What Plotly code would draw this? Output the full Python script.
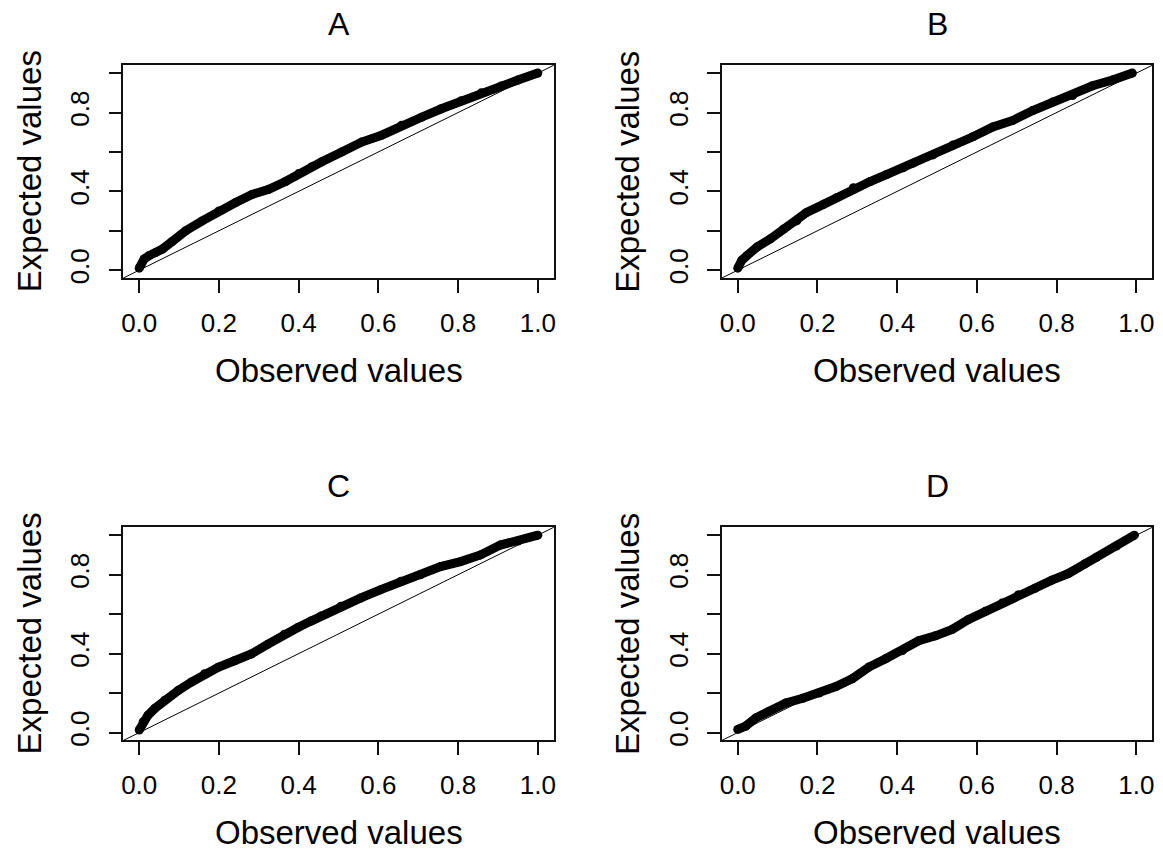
import plotly.graph_objects as go

# ---- data (Observed, Expected) ----
panel_titles = ["A", "B", "C", "D"]

A_x = [0.0, 0.0125, 0.025, 0.042, 0.058, 0.083, 0.117, 0.158, 0.2, 0.242, 0.283, 0.325, 0.367, 0.4,
       0.433, 0.458, 0.508, 0.558, 0.608, 0.658, 0.708, 0.758, 0.808, 0.858, 0.908, 0.95, 1.0]
A_y = [0.01, 0.057, 0.074, 0.09, 0.107, 0.146, 0.2, 0.25, 0.30, 0.343, 0.384, 0.41, 0.45, 0.49,
       0.525, 0.55, 0.60, 0.65, 0.685, 0.735, 0.776, 0.819, 0.86, 0.90, 0.935, 0.965, 1.0]

B_x = [0.0, 0.01, 0.023, 0.048, 0.082, 0.115, 0.148, 0.173, 0.215, 0.248, 0.29, 0.332, 0.373,
       0.415, 0.44, 0.49, 0.54, 0.59, 0.64, 0.69, 0.74, 0.79, 0.84, 0.89, 0.94, 0.99]
B_y = [0.01, 0.05, 0.074, 0.117, 0.159, 0.209, 0.25, 0.293, 0.334, 0.368, 0.418, 0.45, 0.485,
       0.52, 0.543, 0.585, 0.635, 0.677, 0.727, 0.76, 0.81, 0.853, 0.886, 0.936, 0.965, 1.0]

C_x = [0.0, 0.01, 0.022, 0.039, 0.064, 0.098, 0.131, 0.164, 0.198, 0.239, 0.281, 0.323, 0.364,
       0.398, 0.431, 0.456, 0.506, 0.556, 0.606, 0.656, 0.706, 0.756, 0.806, 0.856, 0.906, 0.95, 1.0]
C_y = [0.013, 0.055, 0.088, 0.122, 0.164, 0.214, 0.256, 0.298, 0.331, 0.364, 0.398, 0.448, 0.498,
       0.532, 0.565, 0.59, 0.64, 0.682, 0.724, 0.766, 0.799, 0.841, 0.866, 0.9, 0.95, 0.97, 1.0]

D_x = [0.0, 0.02, 0.046, 0.079, 0.121, 0.163, 0.204, 0.246, 0.288, 0.329, 0.371, 0.413, 0.454,
       0.496, 0.538, 0.579, 0.621, 0.663, 0.704, 0.746, 0.788, 0.829, 0.871, 0.9, 0.95, 0.995]
D_y = [0.016, 0.033, 0.075, 0.108, 0.15, 0.174, 0.2, 0.233, 0.274, 0.332, 0.374, 0.415, 0.465,
       0.49, 0.523, 0.573, 0.614, 0.656, 0.698, 0.731, 0.772, 0.805, 0.855, 0.888, 0.945, 1.0]

x_tick_vals = [0.0, 0.2, 0.4, 0.6, 0.8, 1.0]
x_tick_text = ["0.0", "0.2", "0.4", "0.6", "0.8", "1.0"]
y_tick_vals = [0.0, 0.2, 0.4, 0.6, 0.8, 1.0]
y_tick_text = ["0.0", "", "0.4", "", "0.8", ""]

x_label = "Observed values"
y_label = "Expected values"

series = [(A_x, A_y), (B_x, B_y), (C_x, C_y), (D_x, D_y)]

# ---- layout ----
W, H = 1163, 857
FONT = "Liberation Sans, Arial, sans-serif"
col_px = [(121.7, 553.7), (722.3, 1154.3)]
row_px = [(65.7, 280.0), (531.0, 745.7)]
AX_RANGE = [-0.04, 1.04]

fig = go.Figure()
annotations = []
shapes = []

for i, ((xs, ys), title) in enumerate(zip(series, panel_titles)):
    r, c = divmod(i, 2)
    n = "" if i == 0 else str(i + 1)
    xd = [col_px[c][0] / W, col_px[c][1] / W]
    yd = [1 - row_px[r][1] / H, 1 - row_px[r][0] / H]

    fig.add_trace(go.Scatter(
        x=xs, y=ys, mode="lines+markers",
        line=dict(color="black", width=9),
        marker=dict(color="black", size=9, symbol="circle"),
        xaxis="x" + n, yaxis="y" + n, showlegend=False, hoverinfo="skip"))

    common = dict(range=AX_RANGE, showgrid=False, zeroline=False, showline=True,
                  linecolor="#111", linewidth=1.5, mirror=True, ticks="outside",
                  ticklen=13, tickwidth=1.5, tickcolor="#111",
                  tickfont=dict(family=FONT, size=26, color="black"))
    fig.update_layout(**{
        "xaxis" + n: dict(domain=xd, anchor="y" + n, tickvals=x_tick_vals,
                          ticktext=x_tick_text, ticklabelstandoff=8, **common),
        "yaxis" + n: dict(domain=yd, anchor="x" + n, tickvals=y_tick_vals,
                          ticktext=y_tick_text, tickangle=-90,
                          ticklabelstandoff=9, **common),
    })

    # diagonal reference line spanning the plotting region
    shapes.append(dict(type="line", xref="x" + n + " domain", yref="y" + n + " domain",
                       x0=0, y0=0, x1=1, y1=1, line=dict(color="black", width=1)))

    cx = (col_px[c][0] + col_px[c][1]) / 2 / W
    cy_mid = (row_px[r][0] + row_px[r][1]) / 2
    annotations.append(dict(text=title, x=cx, y=1 - (row_px[r][0] - 42) / H,
                            xref="paper", yref="paper", showarrow=False,
                            xanchor="center", yanchor="middle",
                            font=dict(family=FONT, size=32, color="black")))
    annotations.append(dict(text=x_label, x=cx, y=1 - (row_px[r][1] + 93) / H,
                            xref="paper", yref="paper", showarrow=False,
                            xanchor="center", yanchor="middle",
                            font=dict(family=FONT, size=33, color="black")))
    annotations.append(dict(text=y_label, x=(col_px[c][0] - 94) / W, y=1 - cy_mid / H,
                            xref="paper", yref="paper", showarrow=False, textangle=-90,
                            xanchor="center", yanchor="middle",
                            font=dict(family=FONT, size=33, color="black")))

fig.update_layout(width=W, height=H, margin=dict(l=0, r=0, t=0, b=0),
                  paper_bgcolor="white", plot_bgcolor="white",
                  annotations=annotations, shapes=shapes)

fig.write_html("out.html")
